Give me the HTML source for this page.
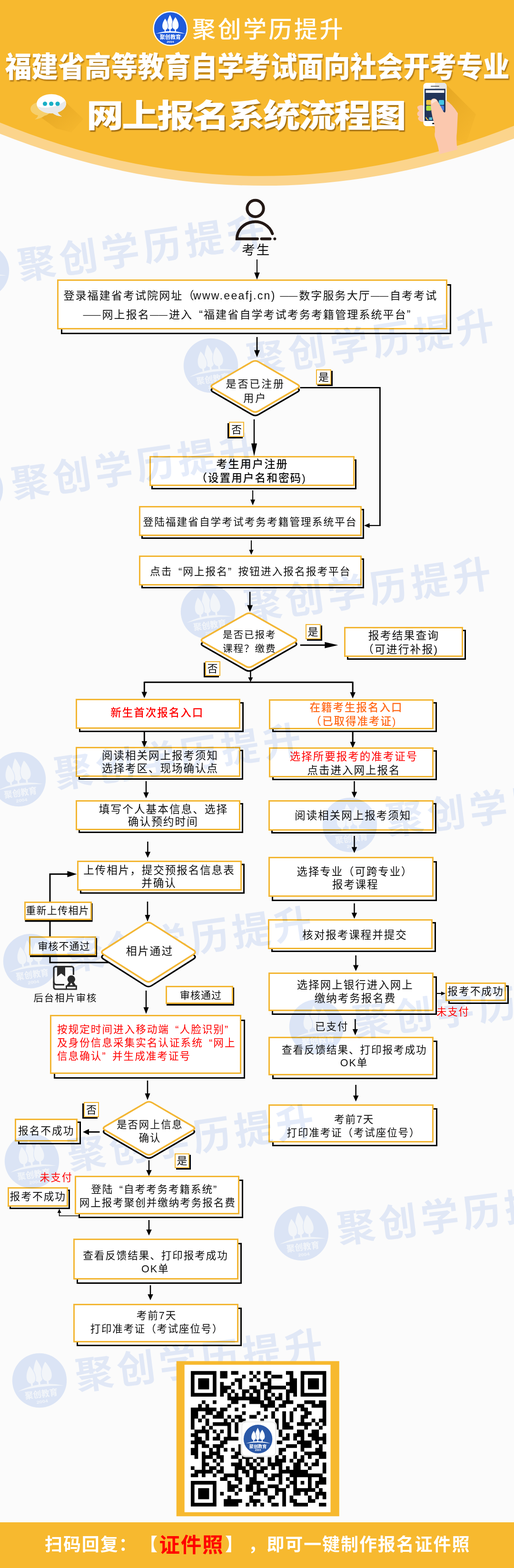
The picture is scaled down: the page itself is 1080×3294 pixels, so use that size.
<!DOCTYPE html>
<html lang="zh-CN">
<head>
<meta charset="utf-8">
<title>福建省高等教育自学考试面向社会开考专业 网上报名系统流程图</title>
<style>
html,body{margin:0;padding:0;}
body{width:1080px;height:3294px;position:relative;overflow:hidden;background:#fbfbfb;font-family:"Liberation Sans","Noto Sans CJK SC",sans-serif;color:#0d0d0d;}
#page{position:absolute;left:0;top:0;width:1080px;height:3294px;overflow:hidden;background:#fbfbfb;}
svg{position:absolute;left:0;top:0;}
.box{position:absolute;box-sizing:border-box;border:3.2px solid #f3b633;background:#fff;}
.t{position:absolute;white-space:nowrap;}
.t.c{transform:translateX(-50%);}
.red{color:#ff0000;}
.org{color:#ff6a1a;}
.m{font-weight:500;}
.la{margin-left:-3.6px;letter-spacing:2.36px;}
.ql,.qr{display:inline-block;width:1em;}
.ql{text-align:right;}
.qr{text-align:left;}
.ds{display:inline-block;width:37px;margin:0 3px 0 0;font-size:18.6px;letter-spacing:0;text-align:center;position:relative;top:-2.5px;}
.lab{position:absolute;box-sizing:border-box;border:2px solid #f3b633;background:#fff;font-size:22px;line-height:1;display:flex;align-items:center;justify-content:center;padding-top:2px;}
.tag{position:absolute;box-sizing:border-box;border:3px solid #f3b633;background:#fff;}
.wmg{position:absolute;width:116px;height:116px;transform-origin:58px 58px;}
.wmtop{position:absolute;left:0;top:0;width:1080px;height:3294px;mix-blend-mode:multiply;pointer-events:none;}
.wm{position:absolute;left:134px;top:13px;color:#e5ecfa;font-size:80px;font-weight:700;letter-spacing:10px;white-space:nowrap;line-height:96px;}
.h0{position:absolute;left:404px;top:32.5px;font-size:49px;line-height:58px;font-weight:500;color:#fff;letter-spacing:4.5px;white-space:nowrap;}
.h1{position:absolute;left:0.5px;top:101.5px;width:1080px;text-align:center;font-size:55.8px;line-height:80px;font-weight:900;color:#fff;letter-spacing:0px;white-space:nowrap;text-shadow:2px 2px 2px rgba(120,70,0,.55);transform:scaleY(1.077);}
.h2{position:absolute;left:516px;top:243.5px;font-size:70px;line-height:96px;font-weight:900;color:#fff;letter-spacing:-3.1px;white-space:nowrap;text-shadow:2px 2.5px 1.5px rgba(110,65,0,.65);transform:translate(-50%,-50%) scale(1.11,0.965);}
.ft{position:absolute;left:0;top:3197.5px;width:1080px;height:97px;background:#f7b92f;color:#fff;font-weight:700;font-size:37px;line-height:96px;letter-spacing:1.9px;white-space:nowrap;}
.ft span{position:absolute;top:0;}
.ft .zj{color:#f00;font-size:43.5px;font-weight:700;letter-spacing:1.8px;}
</style>
</head>
<body>
<div id="page">
<svg width="1080" height="420" viewBox="0 0 1080 420">
<path d="M0 0 H1080 V291 Q540 494 0 281 Z" fill="#fbd48c"/>
<path d="M0 0 H1080 V264.3 Q540 478.5 0 257.6 Z" fill="#f7b92f"/>
<defs><linearGradient id="ls" x1="0" y1="0" x2="1" y2="1"><stop offset="0" stop-color="#c98a10" stop-opacity=".45"/><stop offset="1" stop-color="#c98a10" stop-opacity="0"/></linearGradient></defs>
<path d="M84 245 L128 205 L175 250 L150 278 L118 270 Z" fill="url(#ls)"/>
<path d="M64 229 a22 15 0 1 1 30 14 q-8 6 -21 8 q6 -4 7 -8.5 a22 15 0 0 1 -16 -13.5z" fill="#f6cf6c"/>
<path d="M77 218 a31 20 0 1 1 44 18 q3 5 9 8.5 q-12 -1 -19 -6.5 a31 20 0 0 1 -34 -20z" fill="#fff"/>
<path d="M79 224 q30 8 58 -12 q4 10 -4 18 q-6 5 -12 6.5 q3 5 9 8 q-12 -1 -19 -6.5 q-22 2 -32 -14z" fill="#e9e9ea"/>
<g fill="#19afc6"><circle cx="94.5" cy="218" r="4.6"/><circle cx="107.7" cy="218" r="4.6"/><circle cx="121" cy="218" r="4.6"/></g>
<path d="M938 178 L1000 240 L980 300 L940 290 L905 265 Z" fill="url(#ls)"/>
<path d="M877 224 q6 -5 13 -2 v34 q-8 0 -11 -5 q-2 -4 2 -6 q-6 -3 -4 -8 q1 -3 4 -4 q-5 -5 -4 -9z" fill="#fbc8ae"/>
<rect x="889.5" y="174" width="49" height="91" rx="6.5" fill="#fff"/>
<path d="M914 174 h18 a6.5 6.5 0 0 1 6.5 6.5 v6 h-24.5z" fill="#e6e6e6"/>
<rect x="892" y="186.5" width="44" height="67.5" fill="#22355a"/>
<rect x="894.5" y="189.5" width="39" height="5.5" fill="#fff"/>
<rect x="905" y="180.5" width="18" height="1.5" rx=".7" fill="#444"/>
<rect x="908" y="258" width="10" height="3" rx="1.5" fill="#222"/>
<rect x="895.5" y="210" width="10.5" height="10.5" rx="2" fill="#f5c443"/><rect x="922" y="210" width="11" height="10.5" rx="2" fill="#45c4e6"/><rect x="895.5" y="222" width="10.5" height="10.5" rx="2" fill="#b3e53b"/><rect x="908.5" y="222" width="10.5" height="10.5" rx="2" fill="#ee3fb0"/><rect x="922" y="222" width="11" height="10.5" rx="2" fill="#4a7be0"/>
<circle cx="913.5" cy="249" r="3.2" fill="#fff"/><rect x="901.5" y="246.5" width="6.5" height="5.5" fill="#58c1d6"/><path d="M895 246 q1 5 5 6" stroke="#f5c443" stroke-width="2" fill="none"/>
<path d="M905 213 q1 -6 7 -6 q5 0 8 6 l12 22 q4 4 4 -4 v-21 q14 8 26 28 l-2 40 q-2 16 1 36 l-38 10 q-2 -18 -8 -33 q-3 -6 -1 -14 q0 -12 -3 -22 q-6 -20 -6 -42z" fill="#fbc8ae"/>
<path d="M906 213.5 q1.5 -5.5 6 -5.5 q4 0 6.5 4 q-6 1.5 -11 6.5z" fill="#fde3d6"/>
<circle cx="357.9" cy="59.9" r="36.6" fill="#fff"/><circle cx="357.9" cy="59.9" r="34.2" fill="#1f5bdb"/><path d="M357.17 31.35C360.28 36.87 363.39 44.22 363.39 51.57C363.39 58.31 360.59 61.99 357.17 61.99C353.75 61.99 350.95 58.31 350.95 51.57C350.95 44.22 354.06 36.87 357.17 31.35ZM355.96 60.89H358.38V66.12H355.96Z" fill="#fff" stroke="#1f5bdb" stroke-width="1.83" paint-order="stroke"/><path d="M346.99 39C349.94 43.27 352.89 48.96 352.89 54.65C352.89 59.87 350.23 62.72 346.99 62.72C343.75 62.72 341.1 59.87 341.1 54.65C341.1 48.96 344.05 43.27 346.99 39ZM345.79 61.62H348.2V66.12H345.79Z" fill="#fff" stroke="#1f5bdb" stroke-width="1.83" paint-order="stroke"/><path d="M368.59 36C371.94 40.7 375.28 46.96 375.28 53.22C375.28 58.96 372.27 62.1 368.59 62.1C364.9 62.1 361.89 58.96 361.89 53.22C361.89 46.96 365.24 40.7 368.59 36ZM367.38 61H369.79V66.12H367.38Z" fill="#fff" stroke="#1f5bdb" stroke-width="1.83" paint-order="stroke"/><path d="M327.16 70.88Q357.9 59.9 389.38 70.88Q357.9 66.12 327.16 70.88Z" fill="#fff"/><text x="357.9" y="82.41" font-size="11.71" font-weight="700" fill="#fff" text-anchor="middle" font-family="'Liberation Sans','Noto Sans CJK SC',sans-serif" textLength="44.29" lengthAdjust="spacingAndGlyphs">聚创教育</text><text x="357.9" y="90.46" font-size="5.49" font-weight="700" fill="#fff" text-anchor="middle" font-family="'Liberation Sans','Noto Sans CJK SC',sans-serif" textLength="15.37" lengthAdjust="spacingAndGlyphs">2004</text>
</svg>
<div class="h0">聚创学历提升</div>
<div class="h1">福建省高等教育自学考试面向社会开考专业</div>
<div class="h2">网上报名系统流程图</div>
<svg width="1080" height="3294" viewBox="0 0 1080 3294">
<path d="M540 545 L540 573.5" stroke="#000" stroke-width="2" fill="none"/><path d="M540 587.5 L534.25 572.5 L545.75 572.5 Z" fill="#000"/>
<path d="M540 708 L540 736.6" stroke="#000" stroke-width="2.7" fill="none"/><path d="M540 750.6 L534 735.6 L546 735.6 Z" fill="#000"/>
<path d="M534 881 L534 932.5" stroke="#000" stroke-width="2.5" fill="none"/><path d="M534 958.5 L528 931.5 L540 931.5 Z" fill="#000"/>
<path d="M630.5 814.3 H798.4 V1105" stroke="#000" stroke-width="2.8" fill="none"/>
<path d="M799.8 1104 L775.6 1104" stroke="#000" stroke-width="2.2" fill="none"/><path d="M765 1104 L776.6 1099 L776.6 1109 Z" fill="#000"/>
<path d="M531.1 1030 L531.1 1050.5" stroke="#000" stroke-width="2" fill="none"/><path d="M531.1 1061.5 L526.1 1049.5 L536.1 1049.5 Z" fill="#000"/>
<path d="M528 1135.3 L528 1155.9" stroke="#000" stroke-width="2" fill="none"/><path d="M528 1165.6 L523.4 1154.9 L532.6 1154.9 Z" fill="#000"/>
<path d="M525.1 1243.3 L525.1 1272.3" stroke="#000" stroke-width="2.6" fill="none"/><path d="M525.1 1285.5 L519.1 1271.3 L531.1 1271.3 Z" fill="#000"/>
<path d="M630.8 1355.2 L683.4 1355.2" stroke="#000" stroke-width="3" fill="none"/><path d="M710.4 1355.2 L682.4 1361.7 L682.4 1348.7 Z" fill="#000"/>
<path d="M526.4 1408 L526.4 1424" stroke="#000" stroke-width="2.5" fill="none"/><path d="M526.4 1433 L521.4 1423 L531.4 1423 Z" fill="#000"/>
<path d="M303.3 1433.3 H741.2" stroke="#000" stroke-width="3" fill="none"/>
<path d="M303.3 1432 L303.3 1454.5" stroke="#000" stroke-width="3" fill="none"/><path d="M303.3 1466.5 L297.55 1453.5 L309.05 1453.5 Z" fill="#000"/>
<path d="M741.2 1432 L741.2 1455.3" stroke="#000" stroke-width="3" fill="none"/><path d="M741.2 1467.3 L735.45 1454.3 L746.95 1454.3 Z" fill="#000"/>
<path d="M303.3 1538 L303.3 1558" stroke="#000" stroke-width="3" fill="none"/><path d="M303.3 1570 L297.55 1557 L309.05 1557 Z" fill="#000"/>
<path d="M741.2 1538 L741.2 1559.5" stroke="#000" stroke-width="3" fill="none"/><path d="M741.2 1571.5 L735.45 1558.5 L746.95 1558.5 Z" fill="#000"/>
<path d="M307 1641 L307 1665.5" stroke="#000" stroke-width="2.5" fill="none"/><path d="M307 1677 L301.25 1664.5 L312.75 1664.5 Z" fill="#000"/>
<path d="M744.5 1641 L744.5 1664.5" stroke="#000" stroke-width="2.5" fill="none"/><path d="M744.5 1676 L738.75 1663.5 L750.25 1663.5 Z" fill="#000"/>
<path d="M310.4 1768 L310.4 1790.5" stroke="#000" stroke-width="2.5" fill="none"/><path d="M310.4 1802 L304.65 1789.5 L316.15 1789.5 Z" fill="#000"/>
<path d="M744.5 1756 L744.5 1780.5" stroke="#000" stroke-width="2.5" fill="none"/><path d="M744.5 1792 L738.75 1779.5 L750.25 1779.5 Z" fill="#000"/>
<path d="M310 1894 L310 1923" stroke="#000" stroke-width="2.5" fill="none"/><path d="M310 1936 L304.5 1922 L315.5 1922 Z" fill="#000"/>
<path d="M744.5 1897.7 L744.5 1918.5" stroke="#000" stroke-width="2.5" fill="none"/><path d="M744.5 1930 L738.75 1917.5 L750.25 1917.5 Z" fill="#000"/>
<path d="M747.7 2007 L747.7 2028.5" stroke="#000" stroke-width="2.5" fill="none"/><path d="M747.7 2040 L741.95 2027.5 L753.45 2027.5 Z" fill="#000"/>
<path d="M234 2022 H105 V1836.3 H145" stroke="#000" stroke-width="3" fill="none"/>
<path d="M140 1836.3 L142.5 1836.3" stroke="#000" stroke-width="3" fill="none"/><path d="M161.5 1836.3 L141.5 1842.8 L141.5 1829.8 Z" fill="#000"/>
<path d="M307 2081 L307 2117" stroke="#000" stroke-width="2.5" fill="none"/><path d="M307 2130 L301.5 2116 L312.5 2116 Z" fill="#000"/>
<path d="M746.4 2141 L746.4 2163" stroke="#000" stroke-width="2.5" fill="none"/><path d="M746.4 2175 L740.9 2162 L751.9 2162 Z" fill="#000"/>
<path d="M747.7 2279 L747.7 2302.5" stroke="#000" stroke-width="2.5" fill="none"/><path d="M747.7 2314 L741.95 2301.5 L753.45 2301.5 Z" fill="#000"/>
<path d="M310 2270 L310 2298" stroke="#000" stroke-width="2.5" fill="none"/><path d="M310 2311 L304.5 2297 L315.5 2297 Z" fill="#000"/>
<path d="M209.4 2378 L186 2378" stroke="#000" stroke-width="3" fill="none"/><path d="M174 2378 L187 2371.75 L187 2384.25 Z" fill="#000"/>
<path d="M313 2437.4 L313 2459.1" stroke="#000" stroke-width="2.5" fill="none"/><path d="M313 2470.6 L307.25 2458.1 L318.75 2458.1 Z" fill="#000"/>
<path d="M313 2563 L313 2584" stroke="#000" stroke-width="2.5" fill="none"/><path d="M313 2595.5 L307.25 2583 L318.75 2583 Z" fill="#000"/>
<path d="M316 2700 L316 2720.1" stroke="#000" stroke-width="2.5" fill="none"/><path d="M316 2731.6 L310.25 2719.1 L321.75 2719.1 Z" fill="#000"/>
<path d="M918 2087 L928 2087" stroke="#000" stroke-width="2" fill="none"/><path d="M936 2087 L927 2091 L927 2083 Z" fill="#000"/>
<path d="M166 2554.3 H124.6 V2547" stroke="#000" stroke-width="1.6" fill="none"/>
<path d="M124.6 2539.6 L128.6 2548 L120.6 2548 Z" fill="#000"/>
<g fill="none" stroke="#231815" stroke-width="6" stroke-linecap="round"><circle cx="536.5" cy="438" r="17.2"/><path d="M572.4 491 A38.2 36.2 0 0 0 497.8 501.8 H541 M549.5 501.8 H567.5 M577.3 501.8 h0.1"/></g>
<g fill="none" stroke="#2b2b2b" stroke-width="3.2" stroke-linejoin="round"><path d="M139 2078 H117 a4 4 0 0 1 -4 -4 V2034.600 a4 4 0 0 1 4 -4 H150.400 a4 4 0 0 1 4 4 V2048"/><path d="M113 2062 q0 6.600 6 6.600 H135"/></g>
<g fill="#2b2b2b"><path d="M120 2030 H137 V2051.500 L128.500 2045 L120 2051.500 Z"/><circle cx="149.800" cy="2057.200" r="8.200"/><path d="M145 2063 L140.500 2070 H138 V2079.600 H161.800 V2070 H159.300 L154.800 2063 Z"/></g>
<path d="M141 2073 H158.800 V2076.500 H141 Z M146.600 2069.500 L149.800 2064.500 L153 2069.500 Z" fill="#fff"/>
</svg>
<div class="box" style="left:120px;top:587px;width:820px;height:104.7px;box-shadow:8px 10px 0 -3px #fbfbfb,8px 10px 0 0 #000"></div>
<div class="t" style="left:133.4px;top:606.15px;font-size:23px;letter-spacing:2.1px;line-height:30px;">登录福建省考试院网址（<span class="la">www.eeafj.cn)</span> <span class="ds">——</span>数字服务大厅<span class="ds">——</span>自考考试</div>
<div class="t" style="left:174.5px;top:646.35px;font-size:23px;letter-spacing:2.1px;line-height:30px;"><span class="ds">——</span>网上报名<span class="ds">——</span>进入<span class="ql">“</span>福建省自学考试考务考籍管理系统平台<span class="qr">”</span></div>
<div class="box" style="left:313.5px;top:958.2px;width:431.7px;height:62.8px;box-shadow:4px 7px 0 -3px #fbfbfb,4px 7px 0 0 #000"></div>
<div class="t c m" style="left:530.05px;top:960.46px;font-size:23.2px;letter-spacing:2.1px;line-height:30px;">考生用户注册</div>
<div class="t c m" style="left:528px;top:989.43px;font-size:22.7px;letter-spacing:2px;line-height:30px;">（设置用户名和密码)</div>
<div class="box" style="left:292px;top:1063.3px;width:468px;height:62.7px;box-shadow:5px 6px 0 -3px #fbfbfb,5px 6px 0 0 #000"></div>
<div class="t c" style="left:525.5px;top:1081.68px;font-size:21.7px;letter-spacing:2px;line-height:30px;">登陆福建省自学考试考务考籍管理系统平台</div>
<div class="box" style="left:292px;top:1167px;width:468px;height:62.5px;box-shadow:5px 6px 0 -3px #fbfbfb,5px 6px 0 0 #000"></div>
<div class="t c" style="left:526.3px;top:1186.38px;font-size:21.7px;letter-spacing:2px;line-height:30px;">点击<span class="ql">“</span>网上报名<span class="qr">”</span>按钮进入报名报考平台</div>
<div class="box" style="left:723px;top:1317px;width:249.9px;height:62.8px;box-shadow:6px 6px 0 -3px #fbfbfb,6px 6px 0 0 #000"></div>
<div class="t c" style="left:848.55px;top:1320.14px;font-size:22.8px;letter-spacing:2.1px;line-height:30px;">报考结果查询</div>
<div class="t c" style="left:841.55px;top:1349.14px;font-size:22.8px;letter-spacing:2.1px;line-height:30px;">（可进行补报)</div>
<div class="box" style="left:158.5px;top:1468px;width:346.5px;height:62.9px;box-shadow:7px 7px 0 -3px #fbfbfb,7px 7px 0 0 #000"></div>
<div class="t c red m" style="left:330.3px;top:1483.12px;font-size:22.5px;letter-spacing:2px;line-height:30px;">新生首次报名入口</div>
<div class="box" style="left:564.6px;top:1468.8px;width:346.4px;height:62.8px;box-shadow:7px 6px 0 -3px #fbfbfb,7px 6px 0 0 #000"></div>
<div class="t c org m" style="left:748.5px;top:1472.42px;font-size:22.5px;letter-spacing:2px;line-height:30px;">在籍考生报名入口</div>
<div class="t c org m" style="left:743px;top:1500.83px;font-size:22.5px;letter-spacing:2px;line-height:30px;">（已取得准考证)</div>
<div class="box" style="left:158.5px;top:1569.3px;width:346.5px;height:62.4px;box-shadow:6px 6px 0 -3px #fbfbfb,6px 6px 0 0 #000"></div>
<div class="t c" style="left:336.5px;top:1572.72px;font-size:22.5px;letter-spacing:2px;line-height:30px;">阅读相关网上报考须知</div>
<div class="t c" style="left:336.5px;top:1600.12px;font-size:22.5px;letter-spacing:2px;line-height:30px;">选择考区、现场确认点</div>
<div class="box" style="left:564.6px;top:1570px;width:346.4px;height:63px;box-shadow:7px 6px 0 -3px #fbfbfb,7px 6px 0 0 #000"></div>
<div class="t c red" style="left:743.4px;top:1575.12px;font-size:22.5px;letter-spacing:2px;line-height:30px;">选择所要报考的准考证号</div>
<div class="t c" style="left:743.4px;top:1604.03px;font-size:22.5px;letter-spacing:2px;line-height:30px;">点击进入网上报名</div>
<div class="box" style="left:158.5px;top:1681px;width:346.5px;height:62.8px;box-shadow:6px 6px 0 -3px #fbfbfb,6px 6px 0 0 #000"></div>
<div class="t c" style="left:343.65px;top:1686.13px;font-size:22.6px;letter-spacing:2.1px;line-height:30px;">填写个人基本信息、选择</div>
<div class="t c" style="left:342.85px;top:1712.43px;font-size:22.6px;letter-spacing:2.1px;line-height:30px;">确认预约时间</div>
<div class="box" style="left:564px;top:1681.3px;width:347px;height:63.3px;box-shadow:6px 6px 0 -3px #fbfbfb,6px 6px 0 0 #000"></div>
<div class="t c" style="left:741.7px;top:1699.12px;font-size:22.5px;letter-spacing:2px;line-height:30px;">阅读相关网上报考须知</div>
<div class="box" style="left:162px;top:1808px;width:346px;height:62.7px;box-shadow:6px 6.5px 0 -3px #fbfbfb,6px 6.5px 0 0 #000"></div>
<div class="t c" style="left:334.5px;top:1813.62px;font-size:22.5px;letter-spacing:2px;line-height:30px;">上传相片，提交预报名信息表</div>
<div class="t c" style="left:334px;top:1841.12px;font-size:22.5px;letter-spacing:2px;line-height:30px;">并确认</div>
<div class="box" style="left:564px;top:1800px;width:347px;height:84px;box-shadow:7px 9px 0 -3px #fbfbfb,7px 9px 0 0 #000"></div>
<div class="t c" style="left:745.5px;top:1817.12px;font-size:22.4px;letter-spacing:2px;line-height:30px;">选择专业（可跨专业）</div>
<div class="t c" style="left:746.8px;top:1844.12px;font-size:22.4px;letter-spacing:2px;line-height:30px;">报考课程</div>
<div class="box" style="left:563px;top:1931px;width:346px;height:63px;box-shadow:7px 6px 0 -3px #fbfbfb,7px 6px 0 0 #000"></div>
<div class="t c" style="left:745.4px;top:1949.62px;font-size:22.5px;letter-spacing:2px;line-height:30px;">核对报考课程并提交</div>
<div class="box" style="left:105px;top:2132px;width:402px;height:123.9px;box-shadow:8px 10px 0 -3px #fbfbfb,8px 10px 0 0 #000"></div>
<div class="t red" style="left:120px;top:2148.08px;font-size:21.6px;letter-spacing:2px;line-height:30px;">按规定时间进入移动端<span class="ql">“</span>人脸识别<span class="qr">”</span></div>
<div class="t red" style="left:120px;top:2176.08px;font-size:21.6px;letter-spacing:2px;line-height:30px;">及身份信息采集实名认证系统<span class="ql">“</span>网上</div>
<div class="t red" style="left:120px;top:2203.78px;font-size:21.6px;letter-spacing:2px;line-height:30px;">信息确认<span class="qr">”</span>并生成准考证号</div>
<div class="box" style="left:564px;top:2043px;width:347px;height:81px;box-shadow:7px 8px 0 -3px #fbfbfb,7px 8px 0 0 #000"></div>
<div class="t c" style="left:746.2px;top:2055.12px;font-size:22.5px;letter-spacing:2px;line-height:30px;">选择网上银行进入网上</div>
<div class="t c" style="left:746.5px;top:2082.82px;font-size:22.5px;letter-spacing:2px;line-height:30px;">缴纳考务报名费</div>
<div class="box" style="left:564px;top:2178.3px;width:346.8px;height:80.7px;box-shadow:8px 8px 0 -3px #fbfbfb,8px 8px 0 0 #000"></div>
<div class="t c" style="left:744.75px;top:2191.08px;font-size:21.6px;letter-spacing:1.9px;line-height:30px;">查看反馈结果、打印报考成功</div>
<div class="t c" style="left:743.95px;top:2218.08px;font-size:21.6px;letter-spacing:1.9px;line-height:30px;">OK单</div>
<div class="box" style="left:564px;top:2319.6px;width:346.8px;height:80.7px;box-shadow:8px 8px 0 -3px #fbfbfb,8px 8px 0 0 #000"></div>
<div class="t c" style="left:744.15px;top:2337.08px;font-size:21.6px;letter-spacing:1.9px;line-height:30px;">考前7天</div>
<div class="t c" style="left:742.95px;top:2365.07px;font-size:21.5px;letter-spacing:1.9px;line-height:30px;">打印准考证（考试座位号）</div>
<div class="box" style="left:156.5px;top:2470.4px;width:346.4px;height:80.3px;box-shadow:8px 8px 0 -3px #fbfbfb,8px 8px 0 0 #000"></div>
<div class="t c" style="left:330.45px;top:2484.08px;font-size:21.6px;letter-spacing:1.9px;line-height:30px;">登陆<span class="ql">“</span>自考考务考籍系统<span class="qr">”</span></div>
<div class="t c" style="left:331.25px;top:2511.68px;font-size:21.6px;letter-spacing:1.9px;line-height:30px;">网上报考聚创并缴纳考务报名费</div>
<div class="box" style="left:154.4px;top:2601.9px;width:346.6px;height:86.1px;box-shadow:7px 9px 0 -3px #fbfbfb,7px 9px 0 0 #000"></div>
<div class="t c" style="left:326.95px;top:2623.08px;font-size:21.6px;letter-spacing:1.9px;line-height:30px;">查看反馈结果、打印报考成功</div>
<div class="t c" style="left:326.25px;top:2651.38px;font-size:21.6px;letter-spacing:1.9px;line-height:30px;">OK单</div>
<div class="box" style="left:154.4px;top:2739.2px;width:346.6px;height:80.8px;box-shadow:7px 8px 0 -3px #fbfbfb,7px 8px 0 0 #000"></div>
<div class="t c" style="left:328.95px;top:2749.08px;font-size:21.6px;letter-spacing:1.9px;line-height:30px;">考前7天</div>
<div class="t c" style="left:329.45px;top:2776.87px;font-size:21.4px;letter-spacing:1.9px;line-height:30px;">打印准考证（考试座位号）</div>
<div class="tag" style="left:51.4px;top:1893.5px;width:141.3px;height:39px;box-shadow:1.5px 3.5px 0 0 #000"></div>
<div class="t c" style="left:121.15px;top:1898.45px;font-size:21px;letter-spacing:1.3px;line-height:30px;">重新上传相片</div>
<div class="tag" style="left:60.8px;top:1967.1px;width:141.3px;height:39.5px;box-shadow:2px 3.5px 0 0 #000"></div>
<div class="t c" style="left:134.4px;top:1973.25px;font-size:21px;letter-spacing:1px;line-height:30px;">审核不通过</div>
<div class="tag" style="left:348.3px;top:2070.5px;width:141.5px;height:38.5px;box-shadow:2px 3.5px 0 0 #000"></div>
<div class="t c" style="left:422px;top:2076.05px;font-size:21px;letter-spacing:1px;line-height:30px;">审核通过</div>
<div class="tag" style="left:31.2px;top:2349.6px;width:131.4px;height:48.7px;box-shadow:7px 6px 0 -3px #fbfbfb,7px 6px 0 0 #000"></div>
<div class="t c" style="left:97.2px;top:2360.89px;font-size:21.7px;letter-spacing:2px;line-height:30px;">报名不成功</div>
<div class="tag" style="left:16px;top:2494.3px;width:127.2px;height:40.9px;box-shadow:4px 5px 0 -3px #fbfbfb,4px 5px 0 0 #000"></div>
<div class="t c" style="left:79.8px;top:2499.28px;font-size:21.7px;letter-spacing:2px;line-height:30px;">报考不成功</div>
<div class="tag" style="left:936px;top:2063.5px;width:126.7px;height:39.5px;box-shadow:6px 6px 0 -3px #fbfbfb,6px 6px 0 0 #000"></div>
<div class="t c" style="left:999.5px;top:2068.09px;font-size:21.7px;letter-spacing:2px;line-height:30px;">报考不成功</div>
<div class="wmtop">
<div class="wmg" style="left:-96.3px;top:511px;transform:rotate(-8.22deg)"><svg width="116" height="116" viewBox="0 0 116 116"><circle cx="58" cy="58" r="57.2" fill="#dfe8f9"/><path d="M56.86 13.38C61.72 22 66.58 33.49 66.58 44.98C66.58 55.52 62.2 61.26 56.86 61.26C51.51 61.26 47.13 55.52 47.13 44.98C47.13 33.49 51.99 22 56.86 13.38ZM54.97 59.54H58.74V67.72H54.97Z" fill="#f6f9fd" stroke="#dfe8f9" stroke-width="2.86" paint-order="stroke"/><path d="M40.95 25.34C45.56 32.01 50.16 40.91 50.16 49.8C50.16 57.96 46.02 62.4 40.95 62.4C35.89 62.4 31.75 57.96 31.75 49.8C31.75 40.91 36.35 32.01 40.95 25.34ZM39.07 60.69H42.84V67.72H39.07Z" fill="#f6f9fd" stroke="#dfe8f9" stroke-width="2.86" paint-order="stroke"/><path d="M74.7 20.65C79.94 27.99 85.17 37.78 85.17 47.57C85.17 56.54 80.46 61.43 74.7 61.43C68.95 61.43 64.23 56.54 64.23 47.57C64.23 37.78 69.47 27.99 74.7 20.65ZM72.81 59.72H76.59V67.72H72.81Z" fill="#f6f9fd" stroke="#dfe8f9" stroke-width="2.86" paint-order="stroke"/><path d="M9.95 75.16Q58 58 107.19 75.16Q58 67.72 9.95 75.16Z" fill="#f6f9fd"/><text x="58" y="93.18" font-size="18.3" font-weight="700" fill="#f6f9fd" text-anchor="middle" font-family="'Liberation Sans','Noto Sans CJK SC',sans-serif" textLength="69.21" lengthAdjust="spacingAndGlyphs">聚创教育</text><text x="58" y="105.76" font-size="8.58" font-weight="700" fill="#f6f9fd" text-anchor="middle" font-family="'Liberation Sans','Noto Sans CJK SC',sans-serif" textLength="24.02" lengthAdjust="spacingAndGlyphs">2004</text></svg><div class="wm" style="letter-spacing:8.83px">聚创学历提升</div></div>
<div class="wmg" style="left:384.5px;top:710px;transform:rotate(-8.32deg)"><svg width="116" height="116" viewBox="0 0 116 116"><circle cx="58" cy="58" r="57.2" fill="#dfe8f9"/><path d="M56.86 13.38C61.72 22 66.58 33.49 66.58 44.98C66.58 55.52 62.2 61.26 56.86 61.26C51.51 61.26 47.13 55.52 47.13 44.98C47.13 33.49 51.99 22 56.86 13.38ZM54.97 59.54H58.74V67.72H54.97Z" fill="#f6f9fd" stroke="#dfe8f9" stroke-width="2.86" paint-order="stroke"/><path d="M40.95 25.34C45.56 32.01 50.16 40.91 50.16 49.8C50.16 57.96 46.02 62.4 40.95 62.4C35.89 62.4 31.75 57.96 31.75 49.8C31.75 40.91 36.35 32.01 40.95 25.34ZM39.07 60.69H42.84V67.72H39.07Z" fill="#f6f9fd" stroke="#dfe8f9" stroke-width="2.86" paint-order="stroke"/><path d="M74.7 20.65C79.94 27.99 85.17 37.78 85.17 47.57C85.17 56.54 80.46 61.43 74.7 61.43C68.95 61.43 64.23 56.54 64.23 47.57C64.23 37.78 69.47 27.99 74.7 20.65ZM72.81 59.72H76.59V67.72H72.81Z" fill="#f6f9fd" stroke="#dfe8f9" stroke-width="2.86" paint-order="stroke"/><path d="M9.95 75.16Q58 58 107.19 75.16Q58 67.72 9.95 75.16Z" fill="#f6f9fd"/><text x="58" y="93.18" font-size="18.3" font-weight="700" fill="#f6f9fd" text-anchor="middle" font-family="'Liberation Sans','Noto Sans CJK SC',sans-serif" textLength="69.21" lengthAdjust="spacingAndGlyphs">聚创教育</text><text x="58" y="105.76" font-size="8.58" font-weight="700" fill="#f6f9fd" text-anchor="middle" font-family="'Liberation Sans','Noto Sans CJK SC',sans-serif" textLength="24.02" lengthAdjust="spacingAndGlyphs">2004</text></svg><div class="wm" style="letter-spacing:8.98px">聚创学历提升</div></div>
<div class="wmg" style="left:-109px;top:970px;transform:rotate(-8.24deg)"><svg width="116" height="116" viewBox="0 0 116 116"><circle cx="58" cy="58" r="57.2" fill="#dfe8f9"/><path d="M56.86 13.38C61.72 22 66.58 33.49 66.58 44.98C66.58 55.52 62.2 61.26 56.86 61.26C51.51 61.26 47.13 55.52 47.13 44.98C47.13 33.49 51.99 22 56.86 13.38ZM54.97 59.54H58.74V67.72H54.97Z" fill="#f6f9fd" stroke="#dfe8f9" stroke-width="2.86" paint-order="stroke"/><path d="M40.95 25.34C45.56 32.01 50.16 40.91 50.16 49.8C50.16 57.96 46.02 62.4 40.95 62.4C35.89 62.4 31.75 57.96 31.75 49.8C31.75 40.91 36.35 32.01 40.95 25.34ZM39.07 60.69H42.84V67.72H39.07Z" fill="#f6f9fd" stroke="#dfe8f9" stroke-width="2.86" paint-order="stroke"/><path d="M74.7 20.65C79.94 27.99 85.17 37.78 85.17 47.57C85.17 56.54 80.46 61.43 74.7 61.43C68.95 61.43 64.23 56.54 64.23 47.57C64.23 37.78 69.47 27.99 74.7 20.65ZM72.81 59.72H76.59V67.72H72.81Z" fill="#f6f9fd" stroke="#dfe8f9" stroke-width="2.86" paint-order="stroke"/><path d="M9.95 75.16Q58 58 107.19 75.16Q58 67.72 9.95 75.16Z" fill="#f6f9fd"/><text x="58" y="93.18" font-size="18.3" font-weight="700" fill="#f6f9fd" text-anchor="middle" font-family="'Liberation Sans','Noto Sans CJK SC',sans-serif" textLength="69.21" lengthAdjust="spacingAndGlyphs">聚创教育</text><text x="58" y="105.76" font-size="8.58" font-weight="700" fill="#f6f9fd" text-anchor="middle" font-family="'Liberation Sans','Noto Sans CJK SC',sans-serif" textLength="24.02" lengthAdjust="spacingAndGlyphs">2004</text></svg><div class="wm" style="letter-spacing:8.23px">聚创学历提升</div></div>
<div class="wmg" style="left:378.7px;top:1227px;transform:rotate(-7.89deg)"><svg width="116" height="116" viewBox="0 0 116 116"><circle cx="58" cy="58" r="57.2" fill="#dfe8f9"/><path d="M56.86 13.38C61.72 22 66.58 33.49 66.58 44.98C66.58 55.52 62.2 61.26 56.86 61.26C51.51 61.26 47.13 55.52 47.13 44.98C47.13 33.49 51.99 22 56.86 13.38ZM54.97 59.54H58.74V67.72H54.97Z" fill="#f6f9fd" stroke="#dfe8f9" stroke-width="2.86" paint-order="stroke"/><path d="M40.95 25.34C45.56 32.01 50.16 40.91 50.16 49.8C50.16 57.96 46.02 62.4 40.95 62.4C35.89 62.4 31.75 57.96 31.75 49.8C31.75 40.91 36.35 32.01 40.95 25.34ZM39.07 60.69H42.84V67.72H39.07Z" fill="#f6f9fd" stroke="#dfe8f9" stroke-width="2.86" paint-order="stroke"/><path d="M74.7 20.65C79.94 27.99 85.17 37.78 85.17 47.57C85.17 56.54 80.46 61.43 74.7 61.43C68.95 61.43 64.23 56.54 64.23 47.57C64.23 37.78 69.47 27.99 74.7 20.65ZM72.81 59.72H76.59V67.72H72.81Z" fill="#f6f9fd" stroke="#dfe8f9" stroke-width="2.86" paint-order="stroke"/><path d="M9.95 75.16Q58 58 107.19 75.16Q58 67.72 9.95 75.16Z" fill="#f6f9fd"/><text x="58" y="93.18" font-size="18.3" font-weight="700" fill="#f6f9fd" text-anchor="middle" font-family="'Liberation Sans','Noto Sans CJK SC',sans-serif" textLength="69.21" lengthAdjust="spacingAndGlyphs">聚创教育</text><text x="58" y="105.76" font-size="8.58" font-weight="700" fill="#f6f9fd" text-anchor="middle" font-family="'Liberation Sans','Noto Sans CJK SC',sans-serif" textLength="24.02" lengthAdjust="spacingAndGlyphs">2004</text></svg><div class="wm" style="letter-spacing:8.74px">聚创学历提升</div></div>
<div class="wmg" style="left:-19.5px;top:1579px;transform:rotate(-8.25deg)"><svg width="116" height="116" viewBox="0 0 116 116"><circle cx="58" cy="58" r="57.2" fill="#dfe8f9"/><path d="M56.86 13.38C61.72 22 66.58 33.49 66.58 44.98C66.58 55.52 62.2 61.26 56.86 61.26C51.51 61.26 47.13 55.52 47.13 44.98C47.13 33.49 51.99 22 56.86 13.38ZM54.97 59.54H58.74V67.72H54.97Z" fill="#f6f9fd" stroke="#dfe8f9" stroke-width="2.86" paint-order="stroke"/><path d="M40.95 25.34C45.56 32.01 50.16 40.91 50.16 49.8C50.16 57.96 46.02 62.4 40.95 62.4C35.89 62.4 31.75 57.96 31.75 49.8C31.75 40.91 36.35 32.01 40.95 25.34ZM39.07 60.69H42.84V67.72H39.07Z" fill="#f6f9fd" stroke="#dfe8f9" stroke-width="2.86" paint-order="stroke"/><path d="M74.7 20.65C79.94 27.99 85.17 37.78 85.17 47.57C85.17 56.54 80.46 61.43 74.7 61.43C68.95 61.43 64.23 56.54 64.23 47.57C64.23 37.78 69.47 27.99 74.7 20.65ZM72.81 59.72H76.59V67.72H72.81Z" fill="#f6f9fd" stroke="#dfe8f9" stroke-width="2.86" paint-order="stroke"/><path d="M9.95 75.16Q58 58 107.19 75.16Q58 67.72 9.95 75.16Z" fill="#f6f9fd"/><text x="58" y="93.18" font-size="18.3" font-weight="700" fill="#f6f9fd" text-anchor="middle" font-family="'Liberation Sans','Noto Sans CJK SC',sans-serif" textLength="69.21" lengthAdjust="spacingAndGlyphs">聚创教育</text><text x="58" y="105.76" font-size="8.58" font-weight="700" fill="#f6f9fd" text-anchor="middle" font-family="'Liberation Sans','Noto Sans CJK SC',sans-serif" textLength="24.02" lengthAdjust="spacingAndGlyphs">2004</text></svg><div class="wm" style="letter-spacing:8.6px">聚创学历提升</div></div>
<div class="wmg" style="left:677px;top:1675px;transform:rotate(-7deg)"><svg width="116" height="116" viewBox="0 0 116 116"><circle cx="58" cy="58" r="57.2" fill="#dfe8f9"/><path d="M56.86 13.38C61.72 22 66.58 33.49 66.58 44.98C66.58 55.52 62.2 61.26 56.86 61.26C51.51 61.26 47.13 55.52 47.13 44.98C47.13 33.49 51.99 22 56.86 13.38ZM54.97 59.54H58.74V67.72H54.97Z" fill="#f6f9fd" stroke="#dfe8f9" stroke-width="2.86" paint-order="stroke"/><path d="M40.95 25.34C45.56 32.01 50.16 40.91 50.16 49.8C50.16 57.96 46.02 62.4 40.95 62.4C35.89 62.4 31.75 57.96 31.75 49.8C31.75 40.91 36.35 32.01 40.95 25.34ZM39.07 60.69H42.84V67.72H39.07Z" fill="#f6f9fd" stroke="#dfe8f9" stroke-width="2.86" paint-order="stroke"/><path d="M74.7 20.65C79.94 27.99 85.17 37.78 85.17 47.57C85.17 56.54 80.46 61.43 74.7 61.43C68.95 61.43 64.23 56.54 64.23 47.57C64.23 37.78 69.47 27.99 74.7 20.65ZM72.81 59.72H76.59V67.72H72.81Z" fill="#f6f9fd" stroke="#dfe8f9" stroke-width="2.86" paint-order="stroke"/><path d="M9.95 75.16Q58 58 107.19 75.16Q58 67.72 9.95 75.16Z" fill="#f6f9fd"/><text x="58" y="93.18" font-size="18.3" font-weight="700" fill="#f6f9fd" text-anchor="middle" font-family="'Liberation Sans','Noto Sans CJK SC',sans-serif" textLength="69.21" lengthAdjust="spacingAndGlyphs">聚创教育</text><text x="58" y="105.76" font-size="8.58" font-weight="700" fill="#f6f9fd" text-anchor="middle" font-family="'Liberation Sans','Noto Sans CJK SC',sans-serif" textLength="24.02" lengthAdjust="spacingAndGlyphs">2004</text></svg><div class="wm" style="letter-spacing:8.59px">聚创学历提升</div></div>
<div class="wmg" style="left:6px;top:1961px;transform:rotate(-7.99deg)"><svg width="116" height="116" viewBox="0 0 116 116"><circle cx="58" cy="58" r="57.2" fill="#dfe8f9"/><path d="M56.86 13.38C61.72 22 66.58 33.49 66.58 44.98C66.58 55.52 62.2 61.26 56.86 61.26C51.51 61.26 47.13 55.52 47.13 44.98C47.13 33.49 51.99 22 56.86 13.38ZM54.97 59.54H58.74V67.72H54.97Z" fill="#f6f9fd" stroke="#dfe8f9" stroke-width="2.86" paint-order="stroke"/><path d="M40.95 25.34C45.56 32.01 50.16 40.91 50.16 49.8C50.16 57.96 46.02 62.4 40.95 62.4C35.89 62.4 31.75 57.96 31.75 49.8C31.75 40.91 36.35 32.01 40.95 25.34ZM39.07 60.69H42.84V67.72H39.07Z" fill="#f6f9fd" stroke="#dfe8f9" stroke-width="2.86" paint-order="stroke"/><path d="M74.7 20.65C79.94 27.99 85.17 37.78 85.17 47.57C85.17 56.54 80.46 61.43 74.7 61.43C68.95 61.43 64.23 56.54 64.23 47.57C64.23 37.78 69.47 27.99 74.7 20.65ZM72.81 59.72H76.59V67.72H72.81Z" fill="#f6f9fd" stroke="#dfe8f9" stroke-width="2.86" paint-order="stroke"/><path d="M9.95 75.16Q58 58 107.19 75.16Q58 67.72 9.95 75.16Z" fill="#f6f9fd"/><text x="58" y="93.18" font-size="18.3" font-weight="700" fill="#f6f9fd" text-anchor="middle" font-family="'Liberation Sans','Noto Sans CJK SC',sans-serif" textLength="69.21" lengthAdjust="spacingAndGlyphs">聚创教育</text><text x="58" y="105.76" font-size="8.58" font-weight="700" fill="#f6f9fd" text-anchor="middle" font-family="'Liberation Sans','Noto Sans CJK SC',sans-serif" textLength="24.02" lengthAdjust="spacingAndGlyphs">2004</text></svg><div class="wm" style="letter-spacing:8.04px">聚创学历提升</div></div>
<div class="wmg" style="left:607px;top:2099px;transform:rotate(-7deg)"><svg width="116" height="116" viewBox="0 0 116 116"><circle cx="58" cy="58" r="57.2" fill="#dfe8f9"/><path d="M56.86 13.38C61.72 22 66.58 33.49 66.58 44.98C66.58 55.52 62.2 61.26 56.86 61.26C51.51 61.26 47.13 55.52 47.13 44.98C47.13 33.49 51.99 22 56.86 13.38ZM54.97 59.54H58.74V67.72H54.97Z" fill="#f6f9fd" stroke="#dfe8f9" stroke-width="2.86" paint-order="stroke"/><path d="M40.95 25.34C45.56 32.01 50.16 40.91 50.16 49.8C50.16 57.96 46.02 62.4 40.95 62.4C35.89 62.4 31.75 57.96 31.75 49.8C31.75 40.91 36.35 32.01 40.95 25.34ZM39.07 60.69H42.84V67.72H39.07Z" fill="#f6f9fd" stroke="#dfe8f9" stroke-width="2.86" paint-order="stroke"/><path d="M74.7 20.65C79.94 27.99 85.17 37.78 85.17 47.57C85.17 56.54 80.46 61.43 74.7 61.43C68.95 61.43 64.23 56.54 64.23 47.57C64.23 37.78 69.47 27.99 74.7 20.65ZM72.81 59.72H76.59V67.72H72.81Z" fill="#f6f9fd" stroke="#dfe8f9" stroke-width="2.86" paint-order="stroke"/><path d="M9.95 75.16Q58 58 107.19 75.16Q58 67.72 9.95 75.16Z" fill="#f6f9fd"/><text x="58" y="93.18" font-size="18.3" font-weight="700" fill="#f6f9fd" text-anchor="middle" font-family="'Liberation Sans','Noto Sans CJK SC',sans-serif" textLength="69.21" lengthAdjust="spacingAndGlyphs">聚创教育</text><text x="58" y="105.76" font-size="8.58" font-weight="700" fill="#f6f9fd" text-anchor="middle" font-family="'Liberation Sans','Noto Sans CJK SC',sans-serif" textLength="24.02" lengthAdjust="spacingAndGlyphs">2004</text></svg><div class="wm" style="letter-spacing:8.59px">聚创学历提升</div></div>
<div class="wmg" style="left:8.5px;top:2381px;transform:rotate(-8.27deg)"><svg width="116" height="116" viewBox="0 0 116 116"><circle cx="58" cy="58" r="57.2" fill="#dfe8f9"/><path d="M56.86 13.38C61.72 22 66.58 33.49 66.58 44.98C66.58 55.52 62.2 61.26 56.86 61.26C51.51 61.26 47.13 55.52 47.13 44.98C47.13 33.49 51.99 22 56.86 13.38ZM54.97 59.54H58.74V67.72H54.97Z" fill="#f6f9fd" stroke="#dfe8f9" stroke-width="2.86" paint-order="stroke"/><path d="M40.95 25.34C45.56 32.01 50.16 40.91 50.16 49.8C50.16 57.96 46.02 62.4 40.95 62.4C35.89 62.4 31.75 57.96 31.75 49.8C31.75 40.91 36.35 32.01 40.95 25.34ZM39.07 60.69H42.84V67.72H39.07Z" fill="#f6f9fd" stroke="#dfe8f9" stroke-width="2.86" paint-order="stroke"/><path d="M74.7 20.65C79.94 27.99 85.17 37.78 85.17 47.57C85.17 56.54 80.46 61.43 74.7 61.43C68.95 61.43 64.23 56.54 64.23 47.57C64.23 37.78 69.47 27.99 74.7 20.65ZM72.81 59.72H76.59V67.72H72.81Z" fill="#f6f9fd" stroke="#dfe8f9" stroke-width="2.86" paint-order="stroke"/><path d="M9.95 75.16Q58 58 107.19 75.16Q58 67.72 9.95 75.16Z" fill="#f6f9fd"/><text x="58" y="93.18" font-size="18.3" font-weight="700" fill="#f6f9fd" text-anchor="middle" font-family="'Liberation Sans','Noto Sans CJK SC',sans-serif" textLength="69.21" lengthAdjust="spacingAndGlyphs">聚创教育</text><text x="58" y="105.76" font-size="8.58" font-weight="700" fill="#f6f9fd" text-anchor="middle" font-family="'Liberation Sans','Noto Sans CJK SC',sans-serif" textLength="24.02" lengthAdjust="spacingAndGlyphs">2004</text></svg><div class="wm" style="letter-spacing:8.48px">聚创学历提升</div></div>
<div class="wmg" style="left:574.7px;top:2532.6px;transform:rotate(-7deg)"><svg width="116" height="116" viewBox="0 0 116 116"><circle cx="58" cy="58" r="57.2" fill="#dfe8f9"/><path d="M56.86 13.38C61.72 22 66.58 33.49 66.58 44.98C66.58 55.52 62.2 61.26 56.86 61.26C51.51 61.26 47.13 55.52 47.13 44.98C47.13 33.49 51.99 22 56.86 13.38ZM54.97 59.54H58.74V67.72H54.97Z" fill="#f6f9fd" stroke="#dfe8f9" stroke-width="2.86" paint-order="stroke"/><path d="M40.95 25.34C45.56 32.01 50.16 40.91 50.16 49.8C50.16 57.96 46.02 62.4 40.95 62.4C35.89 62.4 31.75 57.96 31.75 49.8C31.75 40.91 36.35 32.01 40.95 25.34ZM39.07 60.69H42.84V67.72H39.07Z" fill="#f6f9fd" stroke="#dfe8f9" stroke-width="2.86" paint-order="stroke"/><path d="M74.7 20.65C79.94 27.99 85.17 37.78 85.17 47.57C85.17 56.54 80.46 61.43 74.7 61.43C68.95 61.43 64.23 56.54 64.23 47.57C64.23 37.78 69.47 27.99 74.7 20.65ZM72.81 59.72H76.59V67.72H72.81Z" fill="#f6f9fd" stroke="#dfe8f9" stroke-width="2.86" paint-order="stroke"/><path d="M9.95 75.16Q58 58 107.19 75.16Q58 67.72 9.95 75.16Z" fill="#f6f9fd"/><text x="58" y="93.18" font-size="18.3" font-weight="700" fill="#f6f9fd" text-anchor="middle" font-family="'Liberation Sans','Noto Sans CJK SC',sans-serif" textLength="69.21" lengthAdjust="spacingAndGlyphs">聚创教育</text><text x="58" y="105.76" font-size="8.58" font-weight="700" fill="#f6f9fd" text-anchor="middle" font-family="'Liberation Sans','Noto Sans CJK SC',sans-serif" textLength="24.02" lengthAdjust="spacingAndGlyphs">2004</text></svg><div class="wm" style="letter-spacing:8.59px">聚创学历提升</div></div>
<div class="wmg" style="left:24.7px;top:2841.5px;transform:rotate(-7.3deg)"><svg width="116" height="116" viewBox="0 0 116 116"><circle cx="58" cy="58" r="57.2" fill="#dfe8f9"/><path d="M56.86 13.38C61.72 22 66.58 33.49 66.58 44.98C66.58 55.52 62.2 61.26 56.86 61.26C51.51 61.26 47.13 55.52 47.13 44.98C47.13 33.49 51.99 22 56.86 13.38ZM54.97 59.54H58.74V67.72H54.97Z" fill="#f6f9fd" stroke="#dfe8f9" stroke-width="2.86" paint-order="stroke"/><path d="M40.95 25.34C45.56 32.01 50.16 40.91 50.16 49.8C50.16 57.96 46.02 62.4 40.95 62.4C35.89 62.4 31.75 57.96 31.75 49.8C31.75 40.91 36.35 32.01 40.95 25.34ZM39.07 60.69H42.84V67.72H39.07Z" fill="#f6f9fd" stroke="#dfe8f9" stroke-width="2.86" paint-order="stroke"/><path d="M74.7 20.65C79.94 27.99 85.17 37.78 85.17 47.57C85.17 56.54 80.46 61.43 74.7 61.43C68.95 61.43 64.23 56.54 64.23 47.57C64.23 37.78 69.47 27.99 74.7 20.65ZM72.81 59.72H76.59V67.72H72.81Z" fill="#f6f9fd" stroke="#dfe8f9" stroke-width="2.86" paint-order="stroke"/><path d="M9.95 75.16Q58 58 107.19 75.16Q58 67.72 9.95 75.16Z" fill="#f6f9fd"/><text x="58" y="93.18" font-size="18.3" font-weight="700" fill="#f6f9fd" text-anchor="middle" font-family="'Liberation Sans','Noto Sans CJK SC',sans-serif" textLength="69.21" lengthAdjust="spacingAndGlyphs">聚创教育</text><text x="58" y="105.76" font-size="8.58" font-weight="700" fill="#f6f9fd" text-anchor="middle" font-family="'Liberation Sans','Noto Sans CJK SC',sans-serif" textLength="24.02" lengthAdjust="spacingAndGlyphs">2004</text></svg><div class="wm" style="letter-spacing:8.61px">聚创学历提升</div></div>
</div>
<svg width="1080" height="3294" viewBox="0 0 1080 3294">
<path d="M529.39 767.62 Q536.3 763.6 543.21 767.62 L625.09 815.28 Q632 819.3 625.09 823.32 L543.21 870.98 Q536.3 875 529.39 870.98 L447.51 823.32 Q440.6 819.3 447.51 815.28 Z" fill="#fbfbfb" stroke="#000" stroke-width="3.2" stroke-linejoin="round"/>
<path d="M529.39 760.12 Q536.3 756.1 543.21 760.12 L625.09 807.78 Q632 811.8 625.09 815.82 L543.21 863.48 Q536.3 867.5 529.39 863.48 L447.51 815.82 Q440.6 811.8 447.51 807.78 Z" fill="#fff" stroke="#f3b633" stroke-width="3.4" stroke-linejoin="round"/>
<path d="M516.24 1298.25 Q523.2 1294.3 530.16 1298.25 L619.64 1349.05 Q626.6 1353 619.64 1356.95 L530.16 1407.75 Q523.2 1411.7 516.24 1407.75 L426.76 1356.95 Q419.8 1353 426.76 1349.05 Z" fill="#fbfbfb" stroke="#000" stroke-width="3.2" stroke-linejoin="round"/>
<path d="M516.24 1290.25 Q523.2 1286.3 530.16 1290.25 L619.64 1341.05 Q626.6 1345 619.64 1348.95 L530.16 1399.75 Q523.2 1403.7 516.24 1399.75 L426.76 1348.95 Q419.8 1345 426.76 1341.05 Z" fill="#fff" stroke="#f3b633" stroke-width="3.4" stroke-linejoin="round"/>
<path d="M305.25 1950.09 Q312 1945.8 318.75 1950.09 L406.75 2006.01 Q413.5 2010.3 406.75 2014.59 L318.75 2070.51 Q312 2074.8 305.25 2070.51 L217.25 2014.59 Q210.5 2010.3 217.25 2006.01 Z" fill="#fbfbfb" stroke="#000" stroke-width="3.2" stroke-linejoin="round"/>
<path d="M305.25 1940.09 Q312 1935.8 318.75 1940.09 L406.75 1996.01 Q413.5 2000.3 406.75 2004.59 L318.75 2060.51 Q312 2064.8 305.25 2060.51 L217.25 2004.59 Q210.5 2000.3 217.25 1996.01 Z" fill="#fff" stroke="#f3b633" stroke-width="3.4" stroke-linejoin="round"/>
<path d="M306.09 2323.63 Q313 2319.6 319.91 2323.63 L405.09 2373.27 Q412 2377.3 405.09 2381.33 L319.91 2430.97 Q313 2435 306.09 2430.97 L220.91 2381.33 Q214 2377.3 220.91 2373.27 Z" fill="#fbfbfb" stroke="#000" stroke-width="3.2" stroke-linejoin="round"/>
<path d="M306.09 2316.63 Q313 2312.6 319.91 2316.63 L405.09 2366.27 Q412 2370.3 405.09 2374.33 L319.91 2423.97 Q313 2428 306.09 2423.97 L220.91 2374.33 Q214 2370.3 220.91 2366.27 Z" fill="#fff" stroke="#f3b633" stroke-width="3.4" stroke-linejoin="round"/>
</svg>
<div class="lab" style="left:664px;top:776px;width:32px;height:32px;box-shadow:3px 3px 0 0 #000">是</div>
<div class="lab" style="left:481px;top:886px;width:32px;height:32px;box-shadow:-3px 3px 0 0 #000">否</div>
<div class="lab" style="left:641.5px;top:1311px;width:32px;height:32px;box-shadow:3px 3px 0 0 #000">是</div>
<div class="lab" style="left:430.5px;top:1388.5px;width:32px;height:31px;box-shadow:-3px 3px 0 0 #000">否</div>
<div class="lab" style="left:176px;top:2315px;width:32px;height:31.5px;box-shadow:-3px 3px 0 0 #000">否</div>
<div class="lab" style="left:367px;top:2423px;width:31px;height:30.5px;box-shadow:3px 3px 0 0 #000">是</div>
<div class="t c" style="left:536.75px;top:792.1px;font-size:22px;letter-spacing:2.9px;line-height:30px;">是否已注册</div>
<div class="t c" style="left:536.25px;top:822.1px;font-size:22px;letter-spacing:2.9px;line-height:30px;">用户</div>
<div class="t c" style="left:524.15px;top:1318.53px;font-size:20.6px;letter-spacing:1.9px;line-height:30px;">是否已报考</div>
<div class="t c" style="left:524.15px;top:1348.33px;font-size:20.6px;letter-spacing:1.9px;line-height:30px;">课程？缴费</div>
<div class="t c" style="left:314.55px;top:1982.74px;font-size:22.8px;letter-spacing:2.1px;line-height:30px;">相片通过</div>
<div class="t c" style="left:314.95px;top:2348.07px;font-size:21.3px;letter-spacing:1.9px;line-height:30px;">是否网上信息</div>
<div class="t c" style="left:314.95px;top:2375.57px;font-size:21.3px;letter-spacing:1.9px;line-height:30px;">确认</div>
<div class="t c" style="left:538.8px;top:511.38px;font-size:27.5px;letter-spacing:3px;line-height:30px;">考生</div>
<div class="t c" style="left:137.45px;top:2082.02px;font-size:20.4px;letter-spacing:1.9px;line-height:30px;">后台相片审核</div>
<div class="t c red" style="left:118.15px;top:2458.56px;font-size:21.2px;letter-spacing:1.9px;line-height:30px;">未支付</div>
<div class="t c red" style="left:951.95px;top:2111.46px;font-size:21.2px;letter-spacing:1.9px;line-height:30px;">未支付</div>
<div class="t c" style="left:697.2px;top:2141.57px;font-size:21.5px;letter-spacing:2px;line-height:30px;">已支付</div>
<svg width="1080" height="3294" viewBox="0 0 1080 3294">
<rect x="370.7" y="2859.4" width="342.1" height="325.9" fill="#f7b92f"/>
<rect x="387.7" y="2867" width="306.8" height="309.8" fill="#fff"/>
<path d="M400.95 2880.2h53.83v7.74h-53.83zM462.47 2880.2h15.38v7.74h-15.38zM485.54 2880.2h15.38v7.74h-15.38zM523.99 2880.2h7.69v7.74h-7.69zM539.37 2880.2h7.69v7.74h-7.69zM554.75 2880.2h15.38v7.74h-15.38zM600.89 2880.2h15.38v7.74h-15.38zM631.65 2880.2h53.83v7.74h-53.83zM400.95 2887.89h7.69v7.74h-7.69zM447.09 2887.89h7.69v7.74h-7.69zM462.47 2887.89h15.38v7.74h-15.38zM508.61 2887.89h7.69v7.74h-7.69zM531.68 2887.89h7.69v7.74h-7.69zM554.75 2887.89h7.69v7.74h-7.69zM570.13 2887.89h23.07v7.74h-23.07zM608.58 2887.89h7.69v7.74h-7.69zM631.65 2887.89h7.69v7.74h-7.69zM677.79 2887.89h7.69v7.74h-7.69zM400.95 2895.58h7.69v7.74h-7.69zM416.33 2895.58h23.07v7.74h-23.07zM447.09 2895.58h7.69v7.74h-7.69zM493.23 2895.58h15.38v7.74h-15.38zM523.99 2895.58h7.69v7.74h-7.69zM539.37 2895.58h7.69v7.74h-7.69zM562.44 2895.58h7.69v7.74h-7.69zM608.58 2895.58h15.38v7.74h-15.38zM631.65 2895.58h7.69v7.74h-7.69zM647.03 2895.58h23.07v7.74h-23.07zM677.79 2895.58h7.69v7.74h-7.69zM400.95 2903.27h7.69v7.74h-7.69zM416.33 2903.27h23.07v7.74h-23.07zM447.09 2903.27h7.69v7.74h-7.69zM462.47 2903.27h7.69v7.74h-7.69zM485.54 2903.27h7.69v7.74h-7.69zM500.92 2903.27h7.69v7.74h-7.69zM547.06 2903.27h23.07v7.74h-23.07zM600.89 2903.27h23.07v7.74h-23.07zM631.65 2903.27h7.69v7.74h-7.69zM647.03 2903.27h23.07v7.74h-23.07zM677.79 2903.27h7.69v7.74h-7.69zM400.95 2910.96h7.69v7.74h-7.69zM416.33 2910.96h23.07v7.74h-23.07zM447.09 2910.96h7.69v7.74h-7.69zM462.47 2910.96h23.07v7.74h-23.07zM500.92 2910.96h7.69v7.74h-7.69zM523.99 2910.96h15.38v7.74h-15.38zM547.06 2910.96h7.69v7.74h-7.69zM562.44 2910.96h38.45v7.74h-38.45zM608.58 2910.96h15.38v7.74h-15.38zM631.65 2910.96h7.69v7.74h-7.69zM647.03 2910.96h23.07v7.74h-23.07zM677.79 2910.96h7.69v7.74h-7.69zM400.95 2918.65h7.69v7.74h-7.69zM447.09 2918.65h7.69v7.74h-7.69zM462.47 2918.65h15.38v7.74h-15.38zM485.54 2918.65h7.69v7.74h-7.69zM508.61 2918.65h15.38v7.74h-15.38zM531.68 2918.65h15.38v7.74h-15.38zM554.75 2918.65h15.38v7.74h-15.38zM600.89 2918.65h23.07v7.74h-23.07zM631.65 2918.65h7.69v7.74h-7.69zM677.79 2918.65h7.69v7.74h-7.69zM400.95 2926.34h53.83v7.74h-53.83zM462.47 2926.34h7.69v7.74h-7.69zM477.85 2926.34h7.69v7.74h-7.69zM493.23 2926.34h7.69v7.74h-7.69zM508.61 2926.34h7.69v7.74h-7.69zM523.99 2926.34h7.69v7.74h-7.69zM539.37 2926.34h7.69v7.74h-7.69zM554.75 2926.34h7.69v7.74h-7.69zM570.13 2926.34h7.69v7.74h-7.69zM585.51 2926.34h7.69v7.74h-7.69zM600.89 2926.34h7.69v7.74h-7.69zM616.27 2926.34h7.69v7.74h-7.69zM631.65 2926.34h53.83v7.74h-53.83zM477.85 2934.03h69.21v7.74h-69.21zM554.75 2934.03h15.38v7.74h-15.38zM577.82 2934.03h15.38v7.74h-15.38zM600.89 2934.03h7.69v7.74h-7.69zM424.02 2941.72h7.69v7.74h-7.69zM447.09 2941.72h7.69v7.74h-7.69zM485.54 2941.72h15.38v7.74h-15.38zM523.99 2941.72h30.76v7.74h-30.76zM562.44 2941.72h15.38v7.74h-15.38zM593.2 2941.72h23.07v7.74h-23.07zM639.34 2941.72h23.07v7.74h-23.07zM670.1 2941.72h15.38v7.74h-15.38zM416.33 2949.41h7.69v7.74h-7.69zM431.71 2949.41h7.69v7.74h-7.69zM477.85 2949.41h7.69v7.74h-7.69zM508.61 2949.41h7.69v7.74h-7.69zM547.06 2949.41h30.76v7.74h-30.76zM585.51 2949.41h15.38v7.74h-15.38zM623.96 2949.41h15.38v7.74h-15.38zM654.72 2949.41h30.76v7.74h-30.76zM400.95 2957.1h53.83v7.74h-53.83zM462.47 2957.1h15.38v7.74h-15.38zM493.23 2957.1h7.69v7.74h-7.69zM554.75 2957.1h7.69v7.74h-7.69zM577.82 2957.1h7.69v7.74h-7.69zM616.27 2957.1h7.69v7.74h-7.69zM631.65 2957.1h15.38v7.74h-15.38zM677.79 2957.1h7.69v7.74h-7.69zM400.95 2964.79h15.38v7.74h-15.38zM431.71 2964.79h15.38v7.74h-15.38zM454.78 2964.79h15.38v7.74h-15.38zM508.61 2964.79h7.69v7.74h-7.69zM539.37 2964.79h7.69v7.74h-7.69zM570.13 2964.79h7.69v7.74h-7.69zM593.2 2964.79h7.69v7.74h-7.69zM608.58 2964.79h7.69v7.74h-7.69zM639.34 2964.79h15.38v7.74h-15.38zM677.79 2964.79h7.69v7.74h-7.69zM400.95 2972.48h15.38v7.74h-15.38zM424.02 2972.48h7.69v7.74h-7.69zM447.09 2972.48h23.07v7.74h-23.07zM477.85 2972.48h7.69v7.74h-7.69zM493.23 2972.48h15.38v7.74h-15.38zM523.99 2972.48h15.38v7.74h-15.38zM554.75 2972.48h7.69v7.74h-7.69zM570.13 2972.48h7.69v7.74h-7.69zM593.2 2972.48h7.69v7.74h-7.69zM608.58 2972.48h7.69v7.74h-7.69zM631.65 2972.48h15.38v7.74h-15.38zM677.79 2972.48h7.69v7.74h-7.69zM400.95 2980.17h7.69v7.74h-7.69zM416.33 2980.17h7.69v7.74h-7.69zM431.71 2980.17h7.69v7.74h-7.69zM470.16 2980.17h7.69v7.74h-7.69zM485.54 2980.17h7.69v7.74h-7.69zM500.92 2980.17h15.38v7.74h-15.38zM547.06 2980.17h7.69v7.74h-7.69zM577.82 2980.17h7.69v7.74h-7.69zM593.2 2980.17h7.69v7.74h-7.69zM608.58 2980.17h7.69v7.74h-7.69zM631.65 2980.17h7.69v7.74h-7.69zM654.72 2980.17h7.69v7.74h-7.69zM670.1 2980.17h15.38v7.74h-15.38zM400.95 2987.86h7.69v7.74h-7.69zM431.71 2987.86h7.69v7.74h-7.69zM447.09 2987.86h38.45v7.74h-38.45zM493.23 2987.86h7.69v7.74h-7.69zM577.82 2987.86h7.69v7.74h-7.69zM593.2 2987.86h15.38v7.74h-15.38zM623.96 2987.86h30.76v7.74h-30.76zM662.41 2987.86h7.69v7.74h-7.69zM677.79 2987.86h7.69v7.74h-7.69zM400.95 2995.55h7.69v7.74h-7.69zM424.02 2995.55h7.69v7.74h-7.69zM439.4 2995.55h7.69v7.74h-7.69zM477.85 2995.55h7.69v7.74h-7.69zM493.23 2995.55h7.69v7.74h-7.69zM577.82 2995.55h7.69v7.74h-7.69zM593.2 2995.55h23.07v7.74h-23.07zM639.34 2995.55h7.69v7.74h-7.69zM670.1 2995.55h7.69v7.74h-7.69zM408.64 3003.24h30.76v7.74h-30.76zM447.09 3003.24h7.69v7.74h-7.69zM462.47 3003.24h7.69v7.74h-7.69zM477.85 3003.24h7.69v7.74h-7.69zM493.23 3003.24h7.69v7.74h-7.69zM585.51 3003.24h7.69v7.74h-7.69zM623.96 3003.24h15.38v7.74h-15.38zM654.72 3003.24h15.38v7.74h-15.38zM400.95 3010.93h15.38v7.74h-15.38zM431.71 3010.93h7.69v7.74h-7.69zM454.78 3010.93h7.69v7.74h-7.69zM477.85 3010.93h7.69v7.74h-7.69zM585.51 3010.93h7.69v7.74h-7.69zM600.89 3010.93h7.69v7.74h-7.69zM616.27 3010.93h23.07v7.74h-23.07zM647.03 3010.93h23.07v7.74h-23.07zM677.79 3010.93h7.69v7.74h-7.69zM408.64 3018.62h15.38v7.74h-15.38zM431.71 3018.62h7.69v7.74h-7.69zM447.09 3018.62h15.38v7.74h-15.38zM470.16 3018.62h30.76v7.74h-30.76zM593.2 3018.62h15.38v7.74h-15.38zM616.27 3018.62h7.69v7.74h-7.69zM631.65 3018.62h7.69v7.74h-7.69zM654.72 3018.62h30.76v7.74h-30.76zM400.95 3026.31h30.76v7.74h-30.76zM462.47 3026.31h15.38v7.74h-15.38zM577.82 3026.31h15.38v7.74h-15.38zM623.96 3026.31h30.76v7.74h-30.76zM662.41 3026.31h7.69v7.74h-7.69zM677.79 3026.31h7.69v7.74h-7.69zM408.64 3034h7.69v7.74h-7.69zM424.02 3034h15.38v7.74h-15.38zM447.09 3034h23.07v7.74h-23.07zM500.92 3034h7.69v7.74h-7.69zM600.89 3034h23.07v7.74h-23.07zM631.65 3034h23.07v7.74h-23.07zM670.1 3034h7.69v7.74h-7.69zM400.95 3041.69h15.38v7.74h-15.38zM439.4 3041.69h7.69v7.74h-7.69zM454.78 3041.69h7.69v7.74h-7.69zM470.16 3041.69h7.69v7.74h-7.69zM485.54 3041.69h7.69v7.74h-7.69zM500.92 3041.69h7.69v7.74h-7.69zM585.51 3041.69h15.38v7.74h-15.38zM631.65 3041.69h7.69v7.74h-7.69zM662.41 3041.69h15.38v7.74h-15.38zM400.95 3049.38h15.38v7.74h-15.38zM424.02 3049.38h7.69v7.74h-7.69zM439.4 3049.38h23.07v7.74h-23.07zM493.23 3049.38h15.38v7.74h-15.38zM585.51 3049.38h7.69v7.74h-7.69zM616.27 3049.38h7.69v7.74h-7.69zM639.34 3049.38h46.14v7.74h-46.14zM408.64 3057.07h7.69v7.74h-7.69zM424.02 3057.07h23.07v7.74h-23.07zM454.78 3057.07h15.38v7.74h-15.38zM485.54 3057.07h15.38v7.74h-15.38zM508.61 3057.07h23.07v7.74h-23.07zM539.37 3057.07h15.38v7.74h-15.38zM562.44 3057.07h7.69v7.74h-7.69zM577.82 3057.07h7.69v7.74h-7.69zM593.2 3057.07h7.69v7.74h-7.69zM616.27 3057.07h7.69v7.74h-7.69zM631.65 3057.07h7.69v7.74h-7.69zM647.03 3057.07h7.69v7.74h-7.69zM670.1 3057.07h15.38v7.74h-15.38zM424.02 3064.76h7.69v7.74h-7.69zM447.09 3064.76h7.69v7.74h-7.69zM462.47 3064.76h7.69v7.74h-7.69zM500.92 3064.76h7.69v7.74h-7.69zM516.3 3064.76h7.69v7.74h-7.69zM531.68 3064.76h7.69v7.74h-7.69zM547.06 3064.76h7.69v7.74h-7.69zM562.44 3064.76h7.69v7.74h-7.69zM577.82 3064.76h23.07v7.74h-23.07zM608.58 3064.76h7.69v7.74h-7.69zM623.96 3064.76h15.38v7.74h-15.38zM662.41 3064.76h7.69v7.74h-7.69zM424.02 3072.45h15.38v7.74h-15.38zM454.78 3072.45h7.69v7.74h-7.69zM485.54 3072.45h23.07v7.74h-23.07zM516.3 3072.45h15.38v7.74h-15.38zM539.37 3072.45h7.69v7.74h-7.69zM562.44 3072.45h30.76v7.74h-30.76zM616.27 3072.45h15.38v7.74h-15.38zM639.34 3072.45h7.69v7.74h-7.69zM654.72 3072.45h15.38v7.74h-15.38zM677.79 3072.45h7.69v7.74h-7.69zM400.95 3080.14h7.69v7.74h-7.69zM424.02 3080.14h7.69v7.74h-7.69zM439.4 3080.14h15.38v7.74h-15.38zM462.47 3080.14h7.69v7.74h-7.69zM493.23 3080.14h23.07v7.74h-23.07zM523.99 3080.14h15.38v7.74h-15.38zM547.06 3080.14h15.38v7.74h-15.38zM570.13 3080.14h7.69v7.74h-7.69zM585.51 3080.14h7.69v7.74h-7.69zM600.89 3080.14h7.69v7.74h-7.69zM616.27 3080.14h15.38v7.74h-15.38zM647.03 3080.14h7.69v7.74h-7.69zM677.79 3080.14h7.69v7.74h-7.69zM408.64 3087.83h38.45v7.74h-38.45zM454.78 3087.83h15.38v7.74h-15.38zM493.23 3087.83h7.69v7.74h-7.69zM508.61 3087.83h15.38v7.74h-15.38zM531.68 3087.83h23.07v7.74h-23.07zM585.51 3087.83h61.52v7.74h-61.52zM677.79 3087.83h7.69v7.74h-7.69zM400.95 3095.52h15.38v7.74h-15.38zM424.02 3095.52h7.69v7.74h-7.69zM447.09 3095.52h7.69v7.74h-7.69zM470.16 3095.52h30.76v7.74h-30.76zM516.3 3095.52h7.69v7.74h-7.69zM531.68 3095.52h7.69v7.74h-7.69zM554.75 3095.52h7.69v7.74h-7.69zM570.13 3095.52h23.07v7.74h-23.07zM608.58 3095.52h69.21v7.74h-69.21zM462.47 3103.21h15.38v7.74h-15.38zM493.23 3103.21h15.38v7.74h-15.38zM523.99 3103.21h15.38v7.74h-15.38zM562.44 3103.21h15.38v7.74h-15.38zM585.51 3103.21h7.69v7.74h-7.69zM600.89 3103.21h7.69v7.74h-7.69zM616.27 3103.21h7.69v7.74h-7.69zM647.03 3103.21h7.69v7.74h-7.69zM670.1 3103.21h15.38v7.74h-15.38zM400.95 3110.9h53.83v7.74h-53.83zM477.85 3110.9h7.69v7.74h-7.69zM500.92 3110.9h7.69v7.74h-7.69zM523.99 3110.9h30.76v7.74h-30.76zM585.51 3110.9h7.69v7.74h-7.69zM608.58 3110.9h15.38v7.74h-15.38zM631.65 3110.9h7.69v7.74h-7.69zM647.03 3110.9h7.69v7.74h-7.69zM662.41 3110.9h23.07v7.74h-23.07zM400.95 3118.59h7.69v7.74h-7.69zM447.09 3118.59h7.69v7.74h-7.69zM477.85 3118.59h23.07v7.74h-23.07zM516.3 3118.59h15.38v7.74h-15.38zM539.37 3118.59h7.69v7.74h-7.69zM562.44 3118.59h23.07v7.74h-23.07zM600.89 3118.59h7.69v7.74h-7.69zM616.27 3118.59h7.69v7.74h-7.69zM647.03 3118.59h7.69v7.74h-7.69zM662.41 3118.59h7.69v7.74h-7.69zM400.95 3126.28h7.69v7.74h-7.69zM416.33 3126.28h23.07v7.74h-23.07zM447.09 3126.28h7.69v7.74h-7.69zM477.85 3126.28h15.38v7.74h-15.38zM500.92 3126.28h7.69v7.74h-7.69zM516.3 3126.28h15.38v7.74h-15.38zM539.37 3126.28h23.07v7.74h-23.07zM577.82 3126.28h23.07v7.74h-23.07zM616.27 3126.28h46.14v7.74h-46.14zM670.1 3126.28h7.69v7.74h-7.69zM400.95 3133.97h7.69v7.74h-7.69zM416.33 3133.97h23.07v7.74h-23.07zM447.09 3133.97h7.69v7.74h-7.69zM462.47 3133.97h7.69v7.74h-7.69zM493.23 3133.97h7.69v7.74h-7.69zM531.68 3133.97h15.38v7.74h-15.38zM554.75 3133.97h7.69v7.74h-7.69zM577.82 3133.97h7.69v7.74h-7.69zM593.2 3133.97h7.69v7.74h-7.69zM616.27 3133.97h15.38v7.74h-15.38zM639.34 3133.97h7.69v7.74h-7.69zM662.41 3133.97h23.07v7.74h-23.07zM400.95 3141.66h7.69v7.74h-7.69zM416.33 3141.66h23.07v7.74h-23.07zM447.09 3141.66h7.69v7.74h-7.69zM477.85 3141.66h7.69v7.74h-7.69zM523.99 3141.66h7.69v7.74h-7.69zM562.44 3141.66h15.38v7.74h-15.38zM593.2 3141.66h7.69v7.74h-7.69zM608.58 3141.66h7.69v7.74h-7.69zM647.03 3141.66h7.69v7.74h-7.69zM662.41 3141.66h7.69v7.74h-7.69zM677.79 3141.66h7.69v7.74h-7.69zM400.95 3149.35h7.69v7.74h-7.69zM447.09 3149.35h7.69v7.74h-7.69zM470.16 3149.35h38.45v7.74h-38.45zM523.99 3149.35h23.07v7.74h-23.07zM562.44 3149.35h7.69v7.74h-7.69zM593.2 3149.35h7.69v7.74h-7.69zM608.58 3149.35h15.38v7.74h-15.38zM647.03 3149.35h15.38v7.74h-15.38zM400.95 3157.04h53.83v7.74h-53.83zM470.16 3157.04h30.76v7.74h-30.76zM516.3 3157.04h7.69v7.74h-7.69zM531.68 3157.04h7.69v7.74h-7.69zM547.06 3157.04h7.69v7.74h-7.69zM570.13 3157.04h15.38v7.74h-15.38zM593.2 3157.04h7.69v7.74h-7.69zM616.27 3157.04h30.76v7.74h-30.76zM670.1 3157.04h15.38v7.74h-15.38z" fill="#000"/>
<rect x="505.5" y="2984.5" width="76.5" height="77" rx="11" fill="#fff" opacity=".85"/>
<rect x="508.1" y="2987.1" width="71.1" height="71.9" rx="9" fill="#fff" stroke="#dcdcdc" stroke-width="1"/>
<circle cx="542.1" cy="3023.1" r="30.2" fill="#2b59a8"/><path d="M541.5 2999.54C544.06 3004.09 546.63 3010.16 546.63 3016.23C546.63 3021.79 544.32 3024.82 541.5 3024.82C538.67 3024.82 536.36 3021.79 536.36 3016.23C536.36 3010.16 538.93 3004.09 541.5 2999.54ZM540.5 3023.92H542.49V3028.23H540.5Z" fill="#fff" stroke="#2b59a8" stroke-width="1.51" paint-order="stroke"/><path d="M533.1 3005.86C535.53 3009.38 537.96 3014.08 537.96 3018.77C537.96 3023.08 535.77 3025.43 533.1 3025.43C530.43 3025.43 528.24 3023.08 528.24 3018.77C528.24 3014.08 530.67 3009.38 533.1 3005.86ZM532.1 3024.52H534.1V3028.23H532.1Z" fill="#fff" stroke="#2b59a8" stroke-width="1.51" paint-order="stroke"/><path d="M550.92 3003.38C553.68 3007.26 556.45 3012.42 556.45 3017.59C556.45 3022.33 553.96 3024.91 550.92 3024.91C547.88 3024.91 545.39 3022.33 545.39 3017.59C545.39 3012.42 548.16 3007.26 550.92 3003.38ZM549.92 3024.01H551.91V3028.23H549.92Z" fill="#fff" stroke="#2b59a8" stroke-width="1.51" paint-order="stroke"/><path d="M516.73 3032.16Q542.1 3023.1 568.07 3032.16Q542.1 3028.23 516.73 3032.16Z" fill="#fff"/><text x="542.1" y="3041.67" font-size="9.66" font-weight="700" fill="#fff" text-anchor="middle" font-family="'Liberation Sans','Noto Sans CJK SC',sans-serif" textLength="36.54" lengthAdjust="spacingAndGlyphs">聚创教育</text><text x="542.1" y="3048.32" font-size="4.53" font-weight="700" fill="#fff" text-anchor="middle" font-family="'Liberation Sans','Noto Sans CJK SC',sans-serif" textLength="12.68" lengthAdjust="spacingAndGlyphs">2004</text>
</svg>
<div class="ft"><span style="left:94px">扫码回复：</span><span style="left:294px">【</span><span class="zj" style="left:334.5px">证件照</span><span style="left:473px">】</span><span style="left:521.5px">，即可一键制作报名证件照</span></div>
</div>
</body>
</html>
